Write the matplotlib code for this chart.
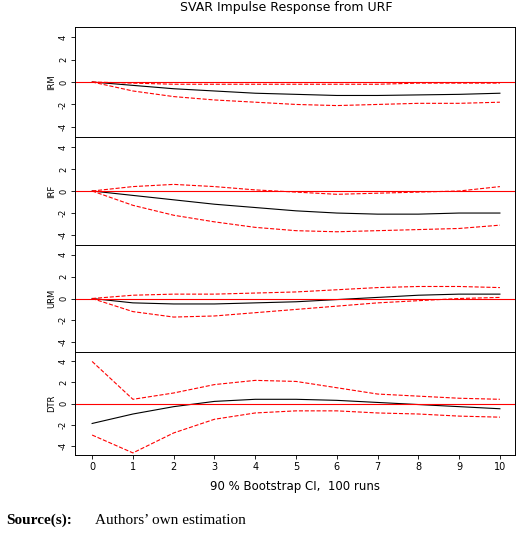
import matplotlib
matplotlib.use("Agg")
import matplotlib.pyplot as plt

steps = list(range(11))
names = ["IRM", "IRF", "URM", "DTR"]
mean = {
 "IRM": [0,-0.3,-0.6,-0.8,-1.0,-1.1,-1.2,-1.2,-1.15,-1.1,-1.0],
 "IRF": [0,-0.4,-0.8,-1.2,-1.5,-1.8,-2.0,-2.1,-2.1,-2.0,-2.0],
 "URM": [0,-0.4,-0.5,-0.5,-0.4,-0.3,-0.1,0.1,0.3,0.4,0.4],
 "DTR": [-1.9,-1.0,-0.3,0.2,0.4,0.4,0.3,0.1,-0.1,-0.3,-0.5],
}
lower = {
 "IRM": [0,-0.8,-1.3,-1.6,-1.8,-2.0,-2.1,-2.0,-1.9,-1.9,-1.8],
 "IRF": [0,-1.3,-2.2,-2.8,-3.3,-3.6,-3.7,-3.6,-3.5,-3.4,-3.1],
 "URM": [0,-1.2,-1.7,-1.6,-1.3,-1.0,-0.7,-0.4,-0.2,0.0,0.1],
 "DTR": [-3.0,-4.7,-2.8,-1.5,-0.9,-0.7,-0.7,-0.9,-1.0,-1.2,-1.3],
}
upper = {
 "IRM": [0,-0.1,-0.2,-0.2,-0.2,-0.2,-0.2,-0.2,-0.1,-0.1,-0.1],
 "IRF": [0,0.4,0.6,0.4,0.1,-0.1,-0.3,-0.2,-0.1,0.0,0.4],
 "URM": [0,0.3,0.4,0.4,0.5,0.6,0.8,1.0,1.1,1.1,1.0],
 "DTR": [4.0,0.4,1.0,1.8,2.2,2.1,1.5,0.9,0.7,0.5,0.4],
}
yticks = [-4, -2, 0, 2, 4]

fig = plt.figure(figsize=(5.2, 5.43), dpi=100)
left, right = 75/520, 515/520
tops = [27, 137, 245, 352]; bots = [137, 245, 352, 455]
for i, n in enumerate(names):
    ax = fig.add_axes([left, 1-bots[i]/543, right-left, (bots[i]-tops[i])/543])
    ax.plot(steps, mean[n], color="black", lw=0.8)
    ax.plot(steps, lower[n], color="red", ls="--", lw=0.8)
    ax.plot(steps, upper[n], color="red", ls="--", lw=0.8)
    ax.axhline(0, color="red", lw=0.8)
    ax.set_xlim(-0.42, 10.37); ax.set_ylim(-4.9, 4.9)
    ax.set_yticks(yticks)
    ax.set_yticklabels([str(t) for t in yticks], rotation=90, fontsize=6, va="center")
    ax.set_ylabel(n, fontsize=6, labelpad=2)
    ax.tick_params(length=3, width=0.6, pad=2)
    for s in ax.spines.values(): s.set_linewidth(0.7)
    if i < 3:
        ax.set_xticks([])
    else:
        ax.set_xticks(steps)
        ax.tick_params(axis="x", labelsize=7)
        ax.set_xlabel("90 % Bootstrap CI,  100 runs", fontsize=8.5, labelpad=6)
fig.text(0.55, 1-8/543, "SVAR Impulse Response from URF", ha="center", va="center", fontsize=9)
fig.text(0.012, 1-520/543, "Source(s):", fontsize=11, family="Liberation Serif",
         weight="bold", va="center")
fig.text(0.182, 1-520/543, "Authors’ own estimation", fontsize=11,
         family="Liberation Serif", va="center")
fig.savefig("out.png")
